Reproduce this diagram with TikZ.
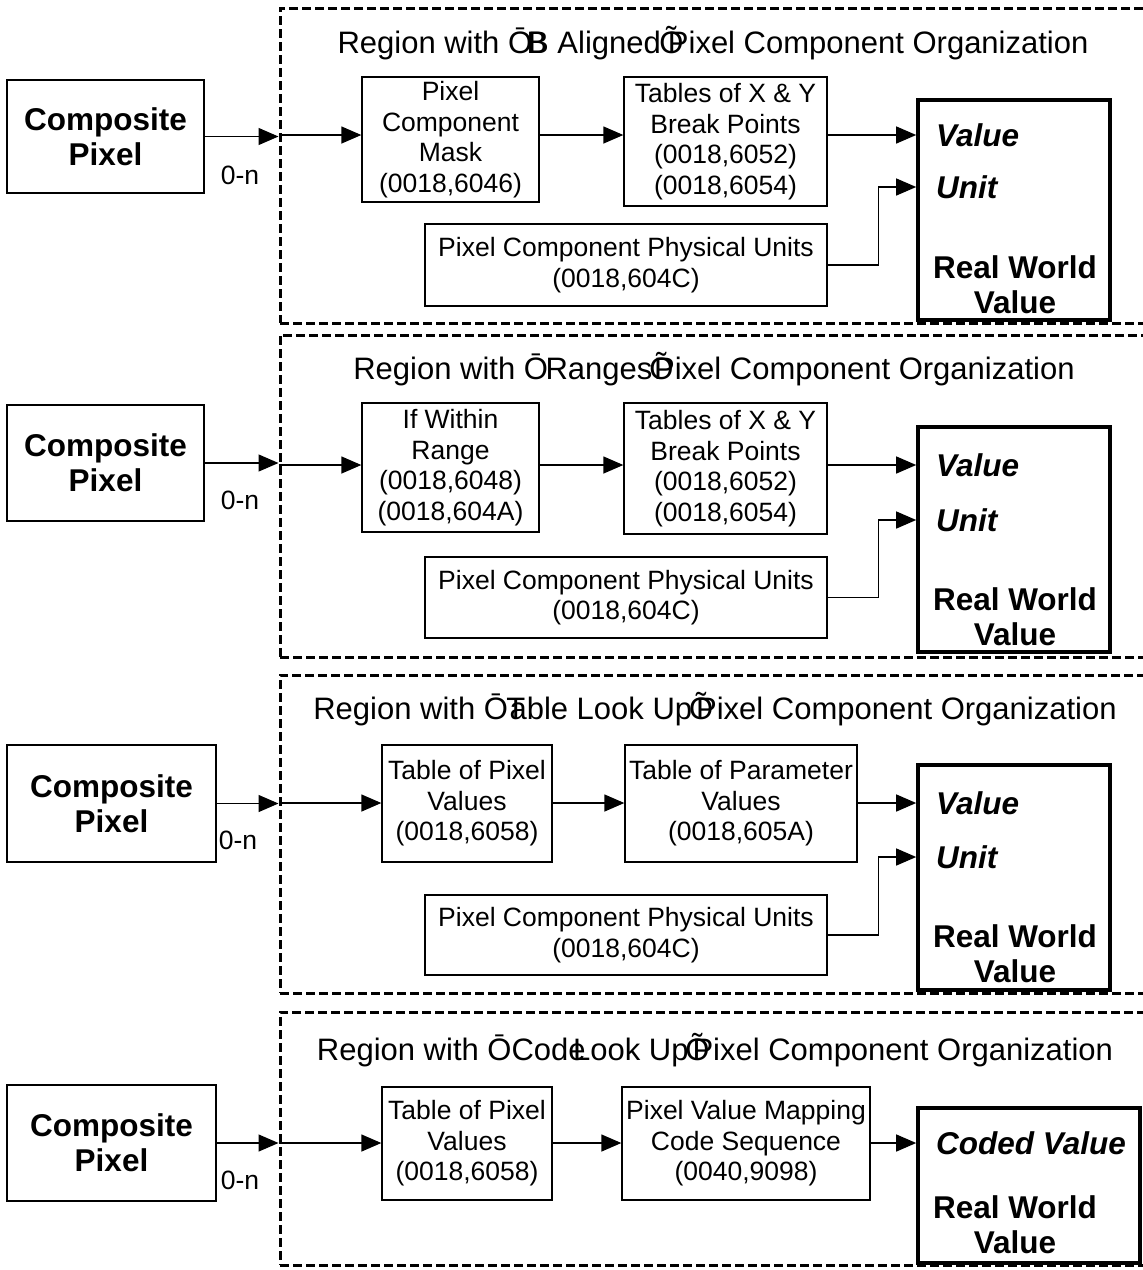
\documentclass[tikz,border=0pt]{standalone}
\usepackage{fontspec}
\setmainfont{Liberation Sans}
\usetikzlibrary{arrows.meta}
\newcommand\boxfont{\fontsize{26.5}{30.6}\selectfont}
\newcommand\titlefont{\fontsize{31}{36}\selectfont}
\newcommand\bigfont{\fontsize{31.5}{35}\selectfont\bfseries}
\newcommand\pbox[7][bx]{\node[#1, minimum width={#5-#3}, minimum height={#6-#4}] (#2) at ({(#3+#5)/2},{(#4+#6)/2}) {#7};}
\tikzset{
  bx/.style={draw, line width=1.3pt, inner sep=0pt, align=center, font=\boxfont},
  cpbox/.style={bx, font=\bigfont},
  rwbox/.style={draw, line width=3.6pt, inner sep=0pt},
  region/.style={draw, line width=3pt, dash pattern=on 9pt off 4pt, inner sep=0pt},
  conn/.style={line width=1.3pt, -{Triangle[length=20pt,width=17pt]}},
  ttl/.style={font=\titlefont, inner sep=0pt},
  lbl/.style={font=\boxfont, inner sep=0pt},
  ital/.style={font=\bigfont\itshape, inner sep=0pt, anchor=west},
  rwtxt/.style={font=\bigfont, inner sep=0pt, align=center},
}
\begin{document}
\begin{tikzpicture}[x=1pt,y=-1pt]
\useasboundingbox (0,0) rectangle (1143,1270);
% ---------- Region 1 ----------
\pbox[region]{reg1}{280}{8}{1152}{323}{}
\node[ttl] (t1) at (713,43) {Region with Ō\kern-0.18em\rlap{B}\kern0.05em B Aligned\kern-0.05emÕ\kern-0.5em Pixel Component Organization};
\pbox[cpbox]{cp1}{7}{80}{204}{193}{Composite\\Pixel}
\pbox{mask}{362}{77}{539}{202}{Pixel\\Component\\Mask\\(0018,6046)}
\pbox{tab1}{624}{77}{827}{206}{Tables of X \& Y\\Break Points\\(0018,6052)\\(0018,6054)}
\pbox[rwbox]{rw1}{918}{100}{1110}{320}{}
\node[ital] (v1) at (936,135) {Value};
\node[ital] (u1) at (936,187) {Unit};
\node[rwtxt] (w1) at (1015,285) {Real World\\Value};
\pbox{phy1}{425}{224}{827}{306}{Pixel Component Physical Units\\(0018,604C)}
\node[lbl] (n1) at (240,175) {0-n};
\draw[conn] (cp1.east) -- (cp1.east -| reg1.west);
\draw[conn] (reg1.west |- v1.west) -- (mask.west |- v1.west);
\draw[conn] (mask.east |- v1.west) -- (tab1.west |- v1.west);
\draw[conn] (tab1.east |- v1.west) -- (rw1.west |- v1.west);
\draw[conn] (phy1.east) -- ++(51,0) |- (u1.west -| rw1.west);
% ---------- Region 2 ----------
\pbox[region]{reg2}{280}{335}{1152}{657}{}
\node[ttl] (t2) at (714,369) {Region with Ō\kern-0.08emRanges\kern-0.1emÕ\kern-0.62em Pixel Component Organization};
\pbox[cpbox]{cp2}{7}{405}{204}{521}{Composite\\Pixel}
\pbox{rng}{362}{403}{539}{532}{If Within\\Range\\(0018,6048)\\(0018,604A)}
\pbox{tab2}{624}{403}{827}{534}{Tables of X \& Y\\Break Points\\(0018,6052)\\(0018,6054)}
\pbox[rwbox]{rw2}{918}{427}{1110}{652}{}
\node[ital] (v2) at (936,465) {Value};
\node[ital] (u2) at (936,520) {Unit};
\node[rwtxt] (w2) at (1015,617) {Real World\\Value};
\pbox{phy2}{425}{557}{827}{638}{Pixel Component Physical Units\\(0018,604C)}
\node[lbl] (n2) at (240,500) {0-n};
\draw[conn] (cp2.east) -- (cp2.east -| reg2.west);
\draw[conn] (reg2.west |- v2.west) -- (rng.west |- v2.west);
\draw[conn] (rng.east |- v2.west) -- (tab2.west |- v2.west);
\draw[conn] (tab2.east |- v2.west) -- (rw2.west |- v2.west);
\draw[conn] (phy2.east) -- ++(51,0) |- (u2.west -| rw2.west);
% ---------- Region 3 ----------
\pbox[region]{reg3}{280}{675}{1152}{993}{}
\node[ttl] (t3) at (715,709) {Region with Ō\kern-0.05em\rlap{T}\kern0.1em able Look Up\kern-0.1emÕ\kern-0.55em Pixel Component Organization};
\pbox[cpbox]{cp3}{7}{745}{216}{862}{Composite\\Pixel}
\pbox{tpv3}{382}{745}{552}{862}{Table of Pixel\\Values\\(0018,6058)}
\pbox{tpar}{625}{745}{857}{862}{Table of Parameter\\Values\\(0018,605A)}
\pbox[rwbox]{rw3}{918}{765}{1110}{990}{}
\node[ital] (v3) at (936,803) {Value};
\node[ital] (u3) at (936,857) {Unit};
\node[rwtxt] (w3) at (1015,954) {Real World\\Value};
\pbox{phy3}{425}{895}{827}{975}{Pixel Component Physical Units\\(0018,604C)}
\node[lbl] (n3) at (238,840) {0-n};
\draw[conn] (cp3.east) -- (cp3.east -| reg3.west);
\draw[conn] (reg3.west |- v3.west) -- (tpv3.west |- v3.west);
\draw[conn] (tpv3.east |- v3.west) -- (tpar.west |- v3.west);
\draw[conn] (tpar.east |- v3.west) -- (rw3.west |- v3.west);
\draw[conn] (phy3.east) -- ++(51,0) |- (u3.west -| rw3.west);
% ---------- Region 4 ----------
\pbox[region]{reg4}{280}{1012}{1152}{1265}{}
\node[ttl] (t4) at (715,1050) {Region with ŌCod\rlap{e}\kern0.15em Look Up\kern-0.1emÕ\kern-0.55em Pixel Component Organization};
\pbox[cpbox]{cp4}{7}{1085}{216}{1201}{Composite\\Pixel}
\pbox{tpv4}{382}{1087}{552}{1200}{Table of Pixel\\Values\\(0018,6058)}
\pbox{pvm}{622}{1087}{870}{1200}{Pixel Value Mapping\\Code Sequence\\(0040,9098)}
\pbox[rwbox]{rw4}{918}{1108}{1140}{1263}{}
\node[ital] (v4) at (936,1143) {Coded Value};
\node[rwtxt] (w4) at (1015,1225) {Real World\\Value};
\node[lbl] (n4) at (240,1180) {0-n};
\draw[conn] (cp4.east) -- (cp4.east -| reg4.west);
\draw[conn] (reg4.west |- v4.west) -- (tpv4.west |- v4.west);
\draw[conn] (tpv4.east |- v4.west) -- (pvm.west |- v4.west);
\draw[conn] (pvm.east |- v4.west) -- (rw4.west |- v4.west);
\end{tikzpicture}
\end{document}
